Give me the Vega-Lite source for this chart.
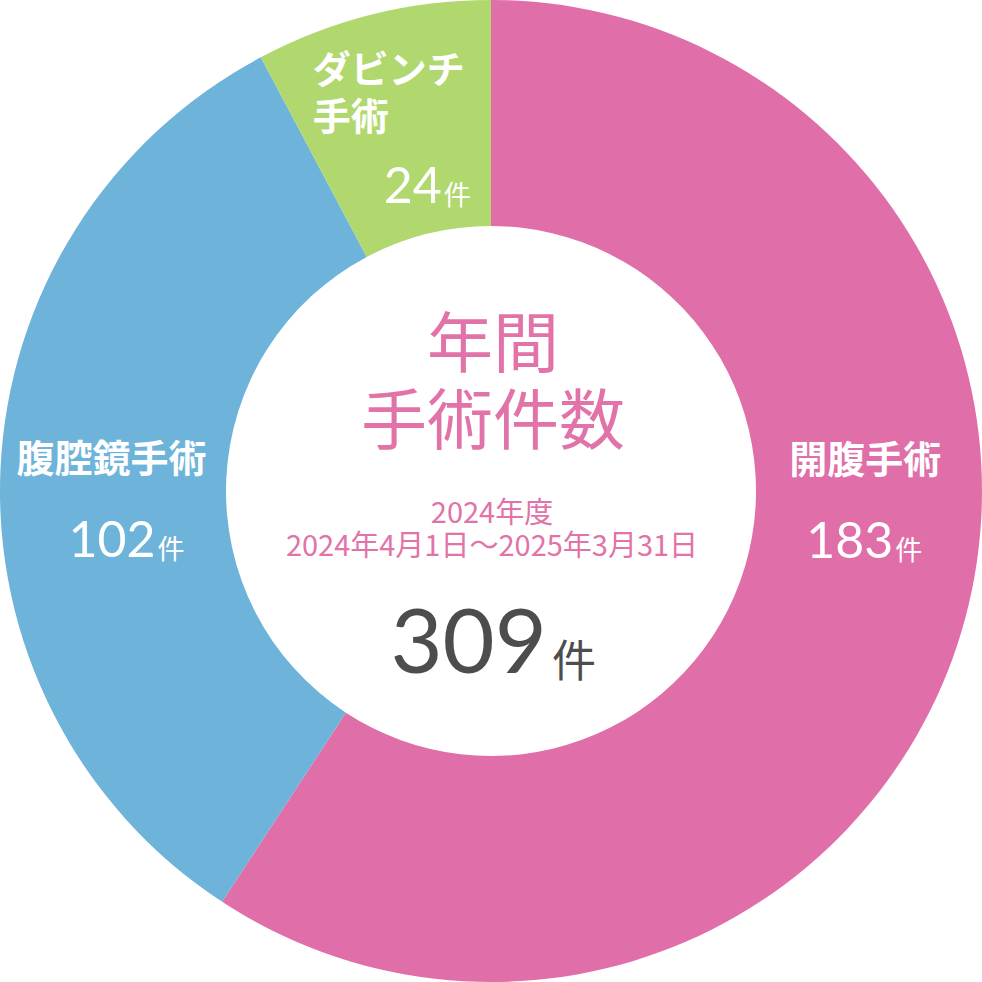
{
  "$schema": "https://vega.github.io/schema/vega-lite/v6.json",
  "width": 982,
  "height": 982,
  "autosize": {"type": "fit", "contains": "padding"},
  "padding": 0,
  "background": "white",
  "config": {"view": {"stroke": null}},
  "datasets": {
    "surgery": [
      {"category": "開腹手術", "label": "開腹手術", "count": 183, "rank": 1},
      {"category": "腹腔鏡手術", "label": "腹腔鏡手術", "count": 102, "rank": 2},
      {"category": "ダビンチ手術", "label": "ダビンチ\n手術", "count": 24, "rank": 3}
    ],
    "center": [
      {"title": "年間\n手術件数", "period": "2024年度\n2024年4月1日～2025年3月31日", "total": "309", "unit": "件"}
    ]
  },
  "layer": [
    {
      "data": {"name": "surgery"},
      "mark": {"type": "arc", "outerRadius": 491, "innerRadius": 265},
      "encoding": {
        "theta": {"field": "count", "type": "quantitative", "stack": true},
        "order": {"field": "rank", "type": "quantitative"},
        "color": {
          "field": "category",
          "type": "nominal",
          "scale": {"domain": ["開腹手術", "腹腔鏡手術", "ダビンチ手術"], "range": ["#E06EA8", "#6DB3DA", "#B1D86F"]},
          "legend": null
        }
      }
    },
    {
      "data": {"name": "surgery"},
      "mark": {
        "type": "text",
        "radius": 378,
        "font": "Noto Sans CJK JP",
        "fontWeight": "bold",
        "fontSize": 38,
        "letterSpacing": 3,
        "fill": "white",
        "lineHeight": 47,
        "lineBreak": "\n",
        "baseline": "middle",
        "align": {"expr": "datum.rank === 3 ? 'left' : 'center'"},
        "dx": {"expr": "datum.rank === 1 ? 12 : datum.rank === 2 ? -2 : -87"},
        "dy": {"expr": "datum.rank === 1 ? -137 : datum.rank === 2 ? -13 : -52"}
      },
      "encoding": {
        "theta": {"field": "count", "type": "quantitative", "stack": true},
        "order": {"field": "rank", "type": "quantitative"},
        "text": {"field": "label"}
      }
    },
    {
      "data": {"name": "surgery"},
      "mark": {
        "type": "text",
        "radius": 378,
        "font": "Lato",
        "fontSize": 50,
        "fill": "white",
        "baseline": "alphabetic",
        "align": "right",
        "dx": {"expr": "datum.rank === 1 ? 40 : datum.rank === 2 ? 42 : 42"},
        "dy": {"expr": "datum.rank === 1 ? -41 : datum.rank === 2 ? 83 : 79"}
      },
      "encoding": {
        "theta": {"field": "count", "type": "quantitative", "stack": true},
        "order": {"field": "rank", "type": "quantitative"},
        "text": {"field": "count", "type": "quantitative"}
      }
    },
    {
      "data": {"name": "surgery"},
      "mark": {
        "type": "text",
        "radius": 378,
        "font": "Noto Sans CJK JP",
        "fontSize": 27,
        "fill": "white",
        "baseline": "alphabetic",
        "align": "left",
        "text": "件",
        "dx": {"expr": "datum.rank === 1 ? 42 : datum.rank === 2 ? 44 : 44"},
        "dy": {"expr": "datum.rank === 1 ? -39 : datum.rank === 2 ? 85 : 81"}
      },
      "encoding": {
        "theta": {"field": "count", "type": "quantitative", "stack": true},
        "order": {"field": "rank", "type": "quantitative"}
      }
    },
    {
      "data": {"name": "center"},
      "mark": {
        "type": "text",
        "font": "Noto Sans CJK JP",
        "fontSize": 66,
        "letterSpacing": 5,
        "fill": "#E173A9",
        "lineHeight": 77,
        "lineBreak": "\n",
        "align": "center",
        "baseline": "middle",
        "dx": 2,
        "dy": -144
      },
      "encoding": {"text": {"field": "title"}}
    },
    {
      "data": {"name": "center"},
      "mark": {
        "type": "text",
        "font": "Noto Sans CJK JP",
        "fontSize": 29,
        "letterSpacing": 1.6,
        "fill": "#E173A9",
        "lineHeight": 33,
        "lineBreak": "\n",
        "align": "center",
        "baseline": "middle",
        "dx": 1,
        "dy": 23
      },
      "encoding": {"text": {"field": "period"}}
    },
    {
      "data": {"name": "center"},
      "mark": {
        "type": "text",
        "font": "Lato",
        "fontSize": 90,
        "fill": "#4D4D4D",
        "align": "right",
        "baseline": "alphabetic",
        "dx": 56,
        "dy": 182
      },
      "encoding": {"text": {"field": "total"}}
    },
    {
      "data": {"name": "center"},
      "mark": {
        "type": "text",
        "font": "Noto Sans CJK JP",
        "fontSize": 44,
        "fill": "#4D4D4D",
        "align": "left",
        "baseline": "alphabetic",
        "dx": 61,
        "dy": 186
      },
      "encoding": {"text": {"field": "unit"}}
    }
  ]
}
